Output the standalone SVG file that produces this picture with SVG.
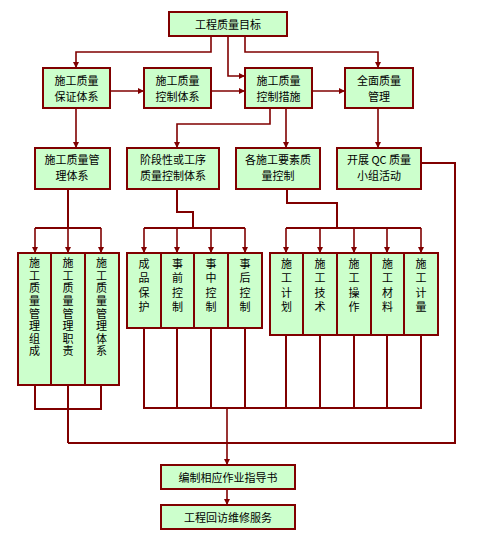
<svg xmlns="http://www.w3.org/2000/svg" width="481" height="534" viewBox="0 0 481 534">
<defs>
<marker id="arr" markerWidth="6" markerHeight="6" refX="6" refY="3" orient="auto" markerUnits="userSpaceOnUse">
<path d="M0,0 L6,3 L0,6 z" fill="#800000"/>
</marker>
<style>
.box{fill:#CCFFCC;stroke:#800000;stroke-width:2}
.ln{fill:none;stroke:#800000;stroke-width:2}
.ar{fill:none;stroke:#800000;stroke-width:1.6;marker-end:url(#arr)}
text{font-family:"Noto Sans CJK SC","Noto Sans CJK TC",sans-serif;font-size:11px;fill:#000;text-anchor:middle;dominant-baseline:central}
text.v{writing-mode:vertical-rl;text-anchor:start;letter-spacing:1.6px}
text.v2{writing-mode:vertical-rl;text-anchor:start;letter-spacing:3.3px}
</style>
</defs>
<rect width="481" height="534" fill="#fff"/>
<g id="connectors">
<path class="ar" d="M211,36 V52 H76 V68"/>
<path class="ar" d="M228,36 V76 H245"/>
<path class="ar" d="M245,36 V52 H378 V68"/>
<path class="ar" d="M110,91 H144"/>
<path class="ar" d="M211,91 H245"/>
<path class="ar" d="M312,91 H345"/>
<path class="ar" d="M76,108 V148"/>
<path class="ar" d="M270,108 V124 H177 V148"/>
<path class="ar" d="M286,108 V148"/>
<path class="ar" d="M378,108 V148"/>
<path class="ln" d="M68,189 V228 M35,228 H101"/>
<path class="ar" d="M35,228 V253"/>
<path class="ar" d="M68,228 V253"/>
<path class="ar" d="M101,228 V253"/>
<path class="ln" d="M177,189 V212 H193 V228 M144,228 H245"/>
<path class="ar" d="M144,228 V253"/>
<path class="ar" d="M177,228 V253"/>
<path class="ar" d="M211,228 V253"/>
<path class="ar" d="M245,228 V253"/>
<path class="ln" d="M287,189 V203 H337 V228 M286,228 H421"/>
<path class="ar" d="M286,228 V253"/>
<path class="ar" d="M320,228 V253"/>
<path class="ar" d="M354,228 V253"/>
<path class="ar" d="M387,228 V253"/>
<path class="ar" d="M421,228 V253"/>
<path class="ln" d="M421,163 H455 V443 H68"/>
<path class="ln" d="M35,385 V409 H101 V385 M68,385 V443"/>
<path class="ln" d="M144,328 V408 H421 V335 M177,328 V408 M211,328 V408 M245,328 V408 M286,335 V408 M320,335 V408 M354,335 V408 M387,335 V408"/>
<path class="ar" d="M227,408 V465"/>
<path class="ar" d="M227,489 V505"/>
</g>
<g id="n-top"><rect class="box" x="169" y="12" width="118" height="24"/><text x="228" y="24">工程质量目标</text></g>
<g id="n-bzt"><rect class="box" x="43" y="68" width="67" height="40"/><text x="76.5" y="79.5">施工质量</text><text x="76.5" y="95.5">保证体系</text></g>
<g id="n-kzt"><rect class="box" x="144" y="68" width="67" height="40"/><text x="177.5" y="79.5">施工质量</text><text x="177.5" y="95.5">控制体系</text></g>
<g id="n-kzcs"><rect class="box" x="245" y="68" width="67" height="40"/><text x="278.5" y="79.5">施工质量</text><text x="278.5" y="95.5">控制措施</text></g>
<g id="n-qm"><rect class="box" x="345" y="68" width="68" height="40"/><text x="379" y="79.5">全面质量</text><text x="379" y="95.5">管理</text></g>
<g id="n-gl"><rect class="box" x="35" y="148" width="75" height="41"/><text x="72" y="159">施工质量管</text><text x="72" y="175">理体系</text></g>
<g id="n-jd"><rect class="box" x="127" y="148" width="92" height="41"/><text x="173" y="159">阶段性或工序</text><text x="173" y="175">质量控制体系</text></g>
<g id="n-ys"><rect class="box" x="236" y="148" width="84" height="41"/><text x="278" y="159">各施工要素质</text><text x="278" y="175">量控制</text></g>
<g id="n-qc"><rect class="box" x="337" y="148" width="84" height="41"/><text x="379" y="159">开展 QC 质量</text><text x="379" y="175">小组活动</text></g>
<g id="n-a1"><rect class="box" x="18" y="253" width="33" height="132"/><text class="v" x="34.5" y="257.5">施工质量管理组成</text></g>
<g id="n-a2"><rect class="box" x="51" y="253" width="34" height="132"/><text class="v" x="68" y="257.5">施工质量管理职责</text></g>
<g id="n-a3"><rect class="box" x="85" y="253" width="34" height="132"/><text class="v" x="101.5" y="257.5">施工质量管理体系</text></g>
<g id="n-b1"><rect class="box" x="127" y="253" width="34" height="75"/><text class="v2" x="144" y="258.5">成品保护</text></g>
<g id="n-b2"><rect class="box" x="161" y="253" width="33" height="75"/><text class="v2" x="177.5" y="258.5">事前控制</text></g>
<g id="n-b3"><rect class="box" x="194" y="253" width="34" height="75"/><text class="v2" x="211" y="258.5">事中控制</text></g>
<g id="n-b4"><rect class="box" x="228" y="253" width="34" height="75"/><text class="v2" x="245" y="258.5">事后控制</text></g>
<g id="n-c1"><rect class="box" x="270" y="253" width="33" height="82"/><text class="v2" x="286.5" y="258.5">施工计划</text></g>
<g id="n-c2"><rect class="box" x="303" y="253" width="34" height="82"/><text class="v2" x="320" y="258.5">施工技术</text></g>
<g id="n-c3"><rect class="box" x="337" y="253" width="34" height="82"/><text class="v2" x="354" y="258.5">施工操作</text></g>
<g id="n-c4"><rect class="box" x="371" y="253" width="33" height="82"/><text class="v2" x="387.5" y="258.5">施工材料</text></g>
<g id="n-c5"><rect class="box" x="404" y="253" width="34" height="82"/><text class="v2" x="421" y="258.5">施工计量</text></g>
<g id="n-zy"><rect class="box" x="161" y="465" width="134" height="24"/><text x="228" y="477">编制相应作业指导书</text></g>
<g id="n-hf"><rect class="box" x="161" y="505" width="134" height="24"/><text x="228" y="517">工程回访维修服务</text></g>
</svg>
